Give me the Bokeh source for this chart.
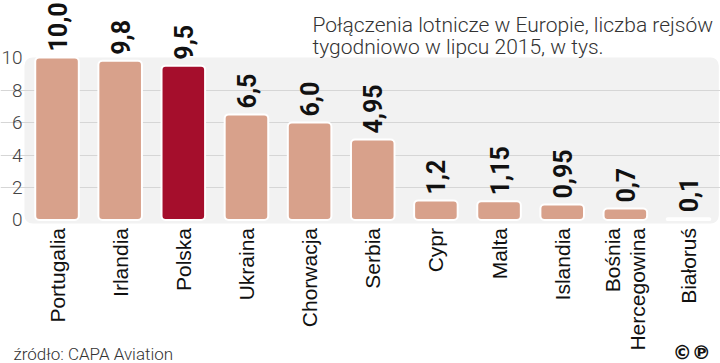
import math
from bokeh.plotting import figure
from bokeh.models import Range1d, FixedTicker, Label, ColumnDataSource
from bokeh.core.properties import value
from bokeh.embed import file_html
from bokeh.resources import INLINE

# ---- data ----
countries = ["Portugalia", "Irlandia", "Polska", "Ukraina", "Chorwacja", "Serbia",
             "Cypr", "Malta", "Islandia", "Bośnia\nHercegowina", "Białoruś"]
flights = [10.0, 9.8, 9.5, 6.5, 6.0, 4.95, 1.2, 1.15, 0.95, 0.7, 0.1]
flight_labels = ["10,0", "9,8", "9,5", "6,5", "6,0", "4,95", "1,2", "1,15", "0,95", "0,7", "0,1"]
highlight = "Polska"
y_ticks = [0, 2, 4, 6, 8, 10]
y_tick_labels = ["0", "2", "4", "6", "8", "10"]
grid_ticks = [2, 4, 6, 8]
title_lines = ["Połączenia lotnicze w Europie, liczba rejsów", "tygodniowo w lipcu 2015, w tys."]
source_text = "źródło: CAPA Aviation"

BAR = "#d8a18b"
HI = "#a50e2c"
LIGHT = "Roboto Light"

# layout (data units of the plot)
X0, X1 = -0.895, 10.507
Y0, Y1 = -8.831, 13.508
TICK_LABEL_X = -0.546

xs = list(range(len(countries)))
colors = [HI if c == highlight else BAR for c in countries]
src = ColumnDataSource(dict(x=xs, top=flights, name=countries, lab=flight_labels, color=colors))
tick_src = ColumnDataSource(dict(y=y_ticks, t=y_tick_labels))

p = figure(width=720, height=363, output_backend="svg", toolbar_location=None,
           x_range=Range1d(X0, X1), y_range=Range1d(Y0, Y1),
           min_border_left=0, min_border_right=0, min_border_top=0, min_border_bottom=0)
p.outline_line_color = None
p.xaxis.visible = False
p.yaxis.visible = False
p.xgrid.visible = False
p.ygrid.ticker = FixedTicker(ticks=grid_ticks)
p.ygrid.grid_line_color = "#d6d6d6"
p.ygrid.grid_line_width = 1

# background panel
panel = p.quad(left=[-0.515], right=[10.48], bottom=[-0.22], top=[10.0],
               fill_color="#f2f2f2", line_color=None, border_radius=8)
panel.level = "image"

# y tick labels
p.text(x=TICK_LABEL_X, y="y", text="t", source=tick_src, text_align="right",
       text_baseline="middle", text_font=value(LIGHT), text_font_size="19px",
       text_color="#444444")

# bars
p.vbar(x="x", top="top", bottom=0, width=0.69, source=src, fill_color="color",
       line_color="white", line_width=2, border_radius=4)

# value labels
p.text(x="x", y="top", text="lab", source=src, angle=math.pi / 2, y_offset=-6,
       text_align="left", text_baseline="middle",
       text_font=value("Roboto"), text_font_style="bold", text_font_size="25px",
       text_color="#111111")

# category labels
p.text(x="x", y=0, text="name", source=src, angle=math.pi / 2, y_offset=8,
       text_align="right", text_baseline="middle", text_line_height=1.1,
       text_font=value("Liberation Sans"), text_font_size="21px", text_color="#111111")

# title
for i, line in enumerate(title_lines):
    p.add_layout(Label(x=4.046, y=11.97 - i * 1.354, text=line,
                       text_font=LIGHT, text_font_size="21px", text_color="#333333",
                       text_align="left", text_baseline="alphabetic"))

# source + logo
p.add_layout(Label(x=-0.689, y=-8.25, text=source_text, text_font=LIGHT,
                   text_font_size="17px", text_color="#333333", text_baseline="alphabetic"))
p.add_layout(Label(x=10.05, y=-8.15, text="©℗", text_font="DejaVu Sans",
                   text_font_style="bold", text_font_size="19px", text_color="#111111",
                   text_align="center", text_baseline="alphabetic"))

open("out.html", "w").write(file_html(p, INLINE))
